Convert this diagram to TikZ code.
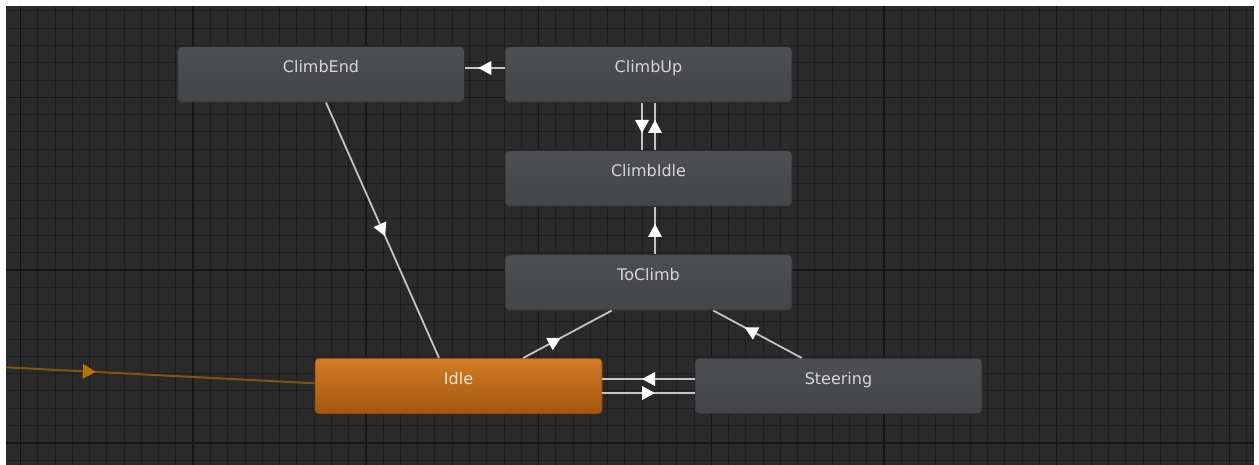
\documentclass[tikz,border=0pt]{standalone}
\usepackage{fontspec}
\setmainfont{DejaVu Sans}
\usetikzlibrary{decorations.markings}

\definecolor{canvas}{HTML}{2A2A2A}
\definecolor{gridminor}{HTML}{1E1E1E}
\definecolor{gridmajor}{HTML}{151515}
\definecolor{statetop}{HTML}{4D4F52}
\definecolor{statebot}{HTML}{434548}
\definecolor{stateline}{HTML}{2C2D2F}
\definecolor{idletop}{HTML}{D27C24}
\definecolor{idlebot}{HTML}{A2570F}
\definecolor{labelc}{HTML}{D6D6D6}
\definecolor{idlelabel}{HTML}{F3E6D8}
\definecolor{linkc}{HTML}{C4C4C4}
\definecolor{entryc}{HTML}{7C5613}
\definecolor{entryhead}{HTML}{B5720E}

\begin{document}
\begin{tikzpicture}[x=1pt,y=-1pt,
  state/.style={rectangle, rounded corners=4pt, minimum width=287pt,
    minimum height=55.5pt, inner sep=0pt, text height=12pt, text depth=15.5pt,
    top color=statetop, bottom color=statebot, draw=stateline, line width=0.6pt,
    text=labelc, font=\fontsize{16}{19}\selectfont},
  defaultstate/.style={state, top color=idletop, bottom color=idlebot,
    draw=idlebot!80!black, text=idlelabel},
  link/.style={draw=linkc, line width=1.8pt, postaction={decorate},
    decoration={markings, mark=at position #1 with
      {\fill[white] (6.5pt,0pt) -- (-6.5pt,7pt) -- (-6.5pt,-7pt) -- cycle;}}},
  link/.default=0.5,
  entrylink/.style={draw=entryc, line width=2pt, postaction={decorate},
    decoration={markings, mark=at position #1 with
      {\fill[entryhead] (6.5pt,0pt) -- (-6.5pt,7.5pt) -- (-6.5pt,-7.5pt) -- cycle;}}}
]
\useasboundingbox (0,0) rectangle (1259,465);
\fill[white] (0,0) rectangle (1259,465);

% editor canvas with its grid
\fill[canvas] (6,6) rectangle (1254,465);
\begin{scope}
\clip (6,6) rectangle (1254,465);
\foreach \k in {0,...,71} {
  \pgfmathsetmacro\gx{20.5+17.27*\k}
  \draw[gridminor, line width=1pt] (\gx,6) -- (\gx,465);
}
\foreach \k in {0,...,26} {
  \pgfmathsetmacro\gy{11+17.27*\k}
  \draw[gridminor, line width=1pt] (6,\gy) -- (1254,\gy);
}
\foreach \k in {0,10,...,70} {
  \pgfmathsetmacro\gx{20.5+17.27*\k}
  \draw[gridmajor, line width=1.5pt] (\gx,6) -- (\gx,465);
}
\foreach \k in {5,15,25} {
  \pgfmathsetmacro\gy{11+17.27*\k}
  \draw[gridmajor, line width=1.5pt] (6,\gy) -- (1254,\gy);
}
\end{scope}

% states
\node[state] (climbend) at (321,74.5) {ClimbEnd};
\node[state] (climbup) at (648.5,74.5) {ClimbUp};
\node[state] (climbidle) at (648.5,178.5) {ClimbIdle};
\node[state] (toclimb) at (648.5,282.5) {ToClimb};
\node[defaultstate] (idle) at (458.5,386) {Idle};
\node[state] (steering) at (838.5,386) {Steering};

\coordinate (entry) at (6,367.3);

% transitions
\draw[entrylink=0.27] (entry) -- ([yshift=2.7pt]idle.west);
\draw[link] ([yshift=6.5pt]climbup.west) -- ([yshift=6.5pt]climbend.east);
\draw[link] ([xshift=-6.5pt]climbup.south) -- ([xshift=-6.5pt]climbidle.north);
\draw[link] ([xshift=6.5pt]climbidle.north) -- ([xshift=6.5pt]climbup.south);
\draw[link] ([xshift=6.5pt]toclimb.north) -- ([xshift=6.5pt]climbidle.south);
\draw[link] ([xshift=5pt]climbend.south) -- ([xshift=-19.5pt]idle.north);
\draw[link=0.36] ([xshift=64.8pt]idle.north) -- ([xshift=-36.8pt]toclimb.south);
\draw[link=0.58] ([xshift=-36.8pt]steering.north) -- ([xshift=64.8pt]toclimb.south);
\draw[link] ([yshift=7pt]steering.west) -- ([yshift=7pt]idle.east);
\draw[link] ([yshift=-7pt]idle.east) -- ([yshift=-7pt]steering.west);
\end{tikzpicture}
\end{document}
